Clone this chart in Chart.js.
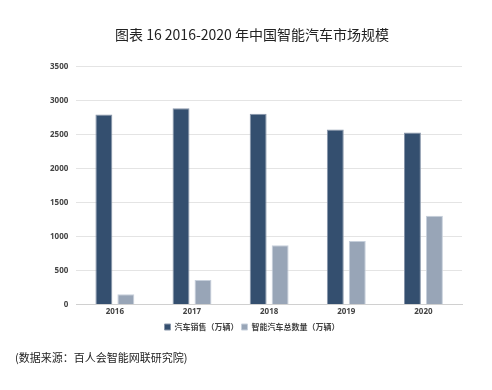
<!DOCTYPE html>
<html>
<head>
<meta charset="utf-8">
<script src="https://cdn.jsdelivr.net/npm/chart.js@4"></script>
<style>
  body { margin: 0; background: #fff; }
  .wrap { position: relative; width: 492px; height: 390px; }
  .source {
    position: absolute; left: 15px; top: 349px;
    font: 11px "Noto Sans CJK SC", sans-serif; color: #222;
  }
</style>
</head>
<body>
<div class="wrap">
  <canvas id="chart" width="492" height="390"></canvas>
  <div class="source">(数据来源：百人会智能网联研究院)</div>
</div>
<script>
  const years = ["2016", "2017", "2018", "2019", "2020"];
  const carSales = [2796, 2888, 2808, 2577, 2531];
  const smartCars = [150, 360, 870, 935, 1305];
  const yTicks = [0, 500, 1000, 1500, 2000, 2500, 3000, 3500];

  const ctx = document.getElementById("chart");

  new Chart(ctx, {
    type: "bar",
    data: {
      labels: years,
      datasets: [
        {
          label: "汽车销售（万辆）",
          data: carSales,
          backgroundColor: "#344f6f",
          borderColor: "#8896aa",
          borderWidth: 1,
          barPercentage: 0.77,
          categoryPercentage: 0.57,
        },
        {
          label: "智能汽车总数量（万辆）",
          data: smartCars,
          backgroundColor: "#98a5b7",
          borderColor: "#c6cfdb",
          borderWidth: 1,
          barPercentage: 0.77,
          categoryPercentage: 0.57,
        },
      ],
    },
    options: {
      responsive: false,
      animation: false,
      layout: { padding: { left: 42, right: 30, top: 0, bottom: 49 } },
      plugins: {
        title: {
          display: true,
          text: "图表 16 2016-2020 年中国智能汽车市场规模",
          color: "#222",
          font: { family: "'Noto Sans CJK SC', sans-serif", size: 14, weight: "normal" },
          padding: { top: 26, bottom: 24 },
        },
        legend: {
          position: "bottom",
          labels: {
            boxWidth: 6,
            boxHeight: 6,
            padding: 3,
            color: "#444",
            font: { family: "'Noto Sans CJK SC', sans-serif", size: 8, weight: "bold" },
          },
        },
        tooltip: { enabled: false },
      },
      scales: {
        x: {
          grid: { display: false, drawTicks: false },
          border: { color: "#d0d0d0" },
          ticks: {
            padding: 3,
            color: "#444",
            font: { family: "'Noto Sans', sans-serif", size: 8, weight: "bold" },
          },
        },
        y: {
          min: 0,
          max: 3500,
          afterBuildTicks: (axis) => {
            axis.ticks = yTicks.map(v => ({ value: v }));
          },
          grid: { color: "#e4e4e4", drawTicks: false },
          border: { display: false },
          ticks: {
            padding: 8,
            color: "#444",
            font: { family: "'Noto Sans', sans-serif", size: 8, weight: "bold" },
            callback: (v) => String(v),
          },
        },
      },
    },
  });
</script>
</body>
</html>
